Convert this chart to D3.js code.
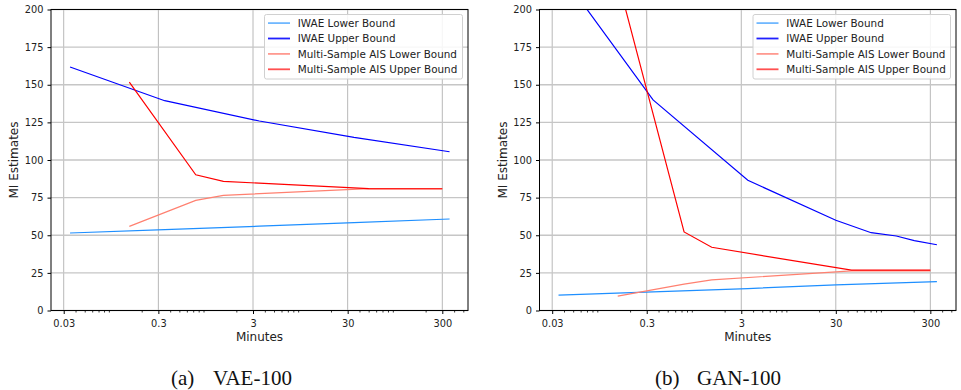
<!DOCTYPE html>
<html>
<head>
<meta charset="utf-8">
<script src="https://cdn.jsdelivr.net/npm/d3@7"></script>
<style>
  body { margin: 0; background: #fff; }
  svg { display: block; }
  text { font-family: 'DejaVu Sans', sans-serif; fill: #222; }
  .caption { font-family: 'Liberation Serif', 'Times New Roman', serif; fill: #111; }
</style>
</head>
<body>
<div id="chart"></div>
<script>
// panel (a) VAE-100
const iwaeTimesA = [0.035, 0.35, 3.5, 35, 358];
const iwaeLowerA = [51.5, 53.8, 56.0, 58.4, 60.8];
const iwaeUpperA = [161.8, 139.4, 125.9, 115.0, 105.5];
const aisTimesA = [0.148, 0.745, 1.46, 50, 300];
const aisLowerA = [55.9, 73.2, 76.5, 81.0, 80.8];
const aisUpperA = [151.8, 90.2, 85.8, 81.0, 80.9];

// panel (b) GAN-100
const iwaeUpperTimesB = [0.035, 0.35, 3.52, 30, 71, 131, 203, 352];
const iwaeUpperB = [226, 139.9, 86.5, 60.0, 51.7, 49.5, 46.4, 43.7];
const iwaeLowerTimesB = [0.035, 0.35, 3.52, 30, 352];
const iwaeLowerB = [10.2, 12.4, 14.6, 17.0, 19.2];
const aisTimesB = [0.148, 0.745, 1.46, 44, 300];
const aisLowerB = [9.5, 17.5, 20.4, 26.3, 26.3];
const aisUpperB = [220, 52.2, 42.0, 26.8, 26.8];

const xTickValues = [0.03, 0.3, 3, 30, 300];
const xTickLabels = ['0.03', '0.3', '3', '30', '300'];
const yTickValues = [0, 25, 50, 75, 100, 125, 150, 175, 200];

const seriesNames = ['IWAE Lower Bound', 'IWAE Upper Bound', 'Multi-Sample AIS Lower Bound', 'Multi-Sample AIS Upper Bound'];
const seriesColors = ['#1e8fff', '#0000ff', '#ff8070', '#ff0000'];
const legendColors = ['#70b8ff', '#2020ff', '#ff9a90', '#ff5050'];

const W = 961, H = 390;
const svg = d3.select('#chart').append('svg')
  .attr('width', W).attr('height', H);

const plotTop = 9.5, plotBottom = 310.5;

function drawPanel(id, left, right, series, caption) {
  const g = svg.append('g');

  // x domain picked so the 0.03..300 ticks land like matplotlib's 5% log margins
  const x = d3.scaleLog().domain([0.02202, 560.5]).range([left, right]);
  const y = d3.scaleLinear().domain([0, 200]).range([plotBottom, plotTop]);

  // grid
  g.append('g')
    .selectAll('line')
    .data(xTickValues)
    .join('line')
    .attr('x1', d => x(d)).attr('x2', d => x(d))
    .attr('y1', plotTop).attr('y2', plotBottom)
    .attr('stroke', '#b8b8b8').attr('stroke-width', 1);

  g.append('g')
    .selectAll('line')
    .data(yTickValues)
    .join('line')
    .attr('x1', left).attr('x2', right)
    .attr('y1', d => y(d)).attr('y2', d => y(d))
    .attr('stroke', '#c6c6c6').attr('stroke-width', 1.3);

  // lines
  g.append('clipPath').attr('id', 'clip-' + id)
    .append('rect')
    .attr('x', left).attr('y', plotTop)
    .attr('width', right - left).attr('height', plotBottom - plotTop);

  const line = d3.line().x(d => x(d[0])).y(d => y(d[1]));
  const lines = g.append('g').attr('clip-path', `url(#clip-${id})`);
  series.forEach((s, i) => {
    lines.append('path')
      .datum(d3.zip(s.t, s.v))
      .attr('d', line)
      .attr('fill', 'none')
      .attr('stroke', seriesColors[i])
      .attr('stroke-width', 1.2);
  });

  // minor ticks at 2..9 x 10^k, skipping the labelled ones
  const minor = [];
  for (let k = -3; k <= 3; k++) {
    for (let m = 2; m <= 9; m++) {
      const v = m * Math.pow(10, k);
      if (m !== 3 && v > 0.02202 && v < 560.5) minor.push(v);
    }
  }
  g.append('g')
    .attr('transform', `translate(0,${plotBottom})`)
    .call(d3.axisBottom(x).tickValues(minor).tickSize(2).tickFormat(''))
    .call(a => a.select('.domain').remove())
    .call(a => a.selectAll('line').attr('stroke', '#000').attr('stroke-width', 0.8));

  g.append('g')
    .attr('transform', `translate(0,${plotBottom})`)
    .call(d3.axisBottom(x).tickValues(xTickValues).tickSize(3.5).tickPadding(6)
      .tickFormat((d, i) => xTickLabels[i]))
    .call(a => a.select('.domain').remove())
    .call(a => a.selectAll('line').attr('stroke', '#000'))
    .call(a => a.selectAll('text').style('font-size', '9.8px').attr('fill', '#222'));

  g.append('g')
    .attr('transform', `translate(${left},0)`)
    .call(d3.axisLeft(y).tickValues(yTickValues).tickSize(3.5).tickPadding(4))
    .call(a => a.select('.domain').remove())
    .call(a => a.selectAll('line').attr('stroke', '#000'))
    .call(a => a.selectAll('text').style('font-size', '9.8px').attr('fill', '#222'));

  // frame
  g.append('rect')
    .attr('x', left).attr('y', plotTop)
    .attr('width', right - left).attr('height', plotBottom - plotTop)
    .attr('fill', 'none').attr('stroke', '#000').attr('stroke-width', 1);

  // labels
  g.append('text')
    .attr('x', (left + right) / 2).attr('y', 341)
    .attr('text-anchor', 'middle')
    .style('font-size', '12px')
    .text('Minutes');

  g.append('text')
    .attr('transform', `translate(${left - 33},${(plotTop + plotBottom) / 2}) rotate(-90)`)
    .attr('text-anchor', 'middle')
    .style('font-size', '12px')
    .text('MI Estimates');

  // legend
  const lx = left + 213.5, ly = 14.5;
  const leg = g.append('g');
  leg.append('rect')
    .attr('x', lx).attr('y', ly)
    .attr('width', right - 5.5 - lx).attr('height', 64.5)
    .attr('rx', 2)
    .attr('fill', '#fff').attr('fill-opacity', 0.85)
    .attr('stroke', '#d0d0d0').attr('stroke-width', 1);

  const rows = leg.selectAll('g')
    .data(seriesNames)
    .join('g')
    .attr('transform', (d, i) => `translate(${lx},${ly + 8.6 + i * 15.4})`);
  rows.append('line')
    .attr('x1', 3.5).attr('x2', 25.5)
    .attr('stroke', (d, i) => legendColors[i])
    .attr('stroke-width', 1.8);
  rows.append('text')
    .attr('x', 33.3).attr('dy', '0.36em')
    .style('font-size', '10.4px')
    .text(d => d);

  // caption
  g.append('text').attr('class', 'caption')
    .attr('x', caption.x0).attr('y', 385)
    .style('font-size', '21px')
    .text(caption.tag);
  g.append('text').attr('class', 'caption')
    .attr('x', caption.x1).attr('y', 385)
    .style('font-size', '21px')
    .text(caption.name);
}

drawPanel('a', 51, 468, [
  { t: iwaeTimesA, v: iwaeLowerA },
  { t: iwaeTimesA, v: iwaeUpperA },
  { t: aisTimesA, v: aisLowerA },
  { t: aisTimesA, v: aisUpperA },
], { tag: '(a)', name: 'VAE-100', x0: 171, x1: 213 });

drawPanel('b', 539.5, 956, [
  { t: iwaeLowerTimesB, v: iwaeLowerB },
  { t: iwaeUpperTimesB, v: iwaeUpperB },
  { t: aisTimesB, v: aisLowerB },
  { t: aisTimesB, v: aisUpperB },
], { tag: '(b)', name: 'GAN-100', x0: 655, x1: 697 });
</script>
</body>
</html>
